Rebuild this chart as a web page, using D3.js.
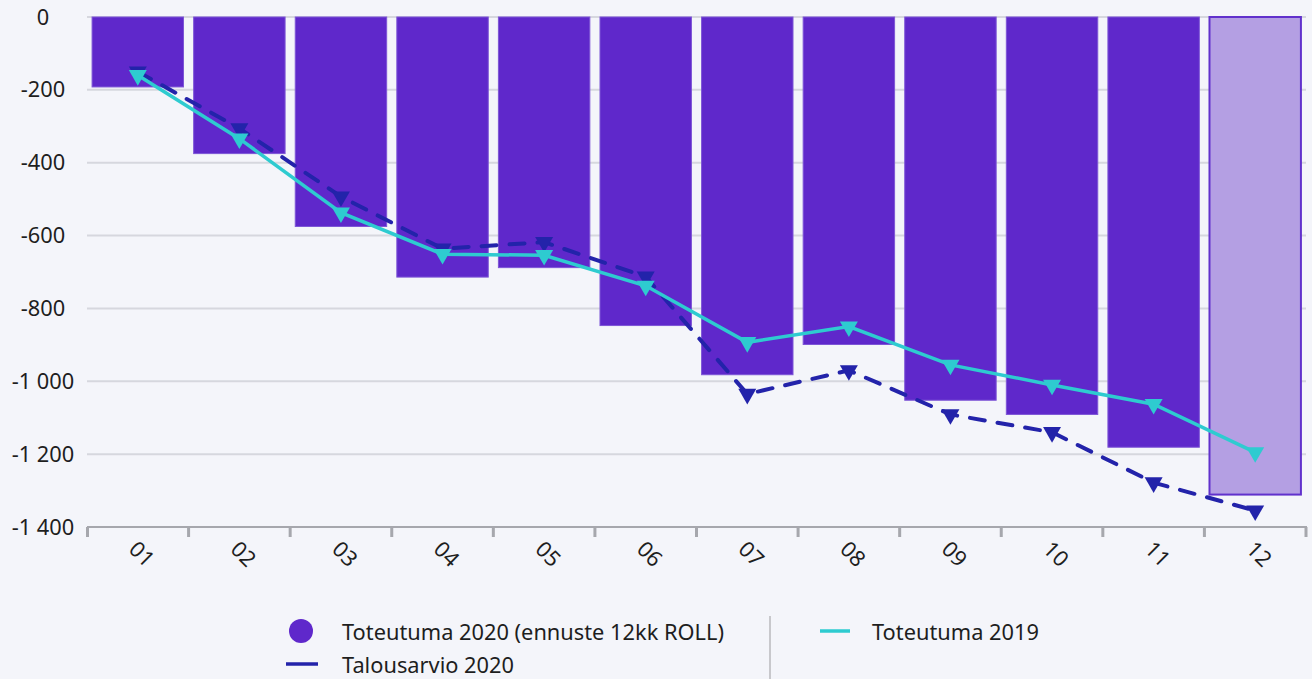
<!DOCTYPE html>
<html><head><meta charset="utf-8">
<script src="https://cdn.jsdelivr.net/npm/d3@7"></script>
<style>
html,body{margin:0;padding:0;background:#f4f5fa;}
svg{display:block;font-family:"Noto Sans","Open Sans",sans-serif;}
</style></head>
<body><svg id="c" width="1312" height="679"></svg>
<script>
const months = ["01","02","03","04","05","06","07","08","09","10","11","12"];
const toteutuma2020 = [-192,-375,-575,-714,-688,-847,-982,-899,-1052,-1091,-1181,-1311];
const forecastFrom = "12";
const talousarvio2020 = [-150,-306,-493,-636,-618,-713,-1035,-970,-1091,-1140,-1278,-1355];
const toteutuma2019 = [-160,-334,-537,-651,-654,-738,-893,-850,-955,-1010,-1063,-1195];
const yTicks = [0,-200,-400,-600,-800,-1000,-1200,-1400];
const legendNames = ["Toteutuma 2020 (ennuste 12kk ROLL)","Talousarvio 2020","Toteutuma 2019"];

const svg = d3.select("#c");
const FS = 21.8;
const x = d3.scaleBand().domain(months).range([87,1306]).paddingInner(0.1).paddingOuter(0.05);
const y = d3.scaleLinear().domain([-1400,0]).range([527,17]);
const fmt = v => d3.format(",")(v).replace(/,/g," ").replace("−","-");

// gridlines
svg.append("g").selectAll("line").data(yTicks.filter(t=>t>-1400)).join("line")
  .attr("x1",87).attr("x2",1306).attr("y1",d=>y(d)).attr("y2",d=>y(d))
  .attr("stroke","#d6d7de").attr("stroke-width",2);
// y labels
svg.append("g").selectAll("text").data(yTicks).join("text")
  .attr("x",43).attr("y",d=>y(d)+7.5).attr("text-anchor","middle")
  .attr("font-size",FS).attr("fill","#1e1e1e").text(d=>fmt(d));

// bars
svg.append("g").selectAll("rect").data(months).join("rect")
  .attr("x",d=>x(d)).attr("width",x.bandwidth())
  .attr("y",y(0)).attr("height",(d,i)=>y(toteutuma2020[i])-y(0))
  .attr("fill",d=>d===forecastFrom?"#b49fe3":"#5f28cb")
  .attr("stroke",d=>d===forecastFrom?"#6131cc":"#7d55d6")
  .attr("stroke-width",d=>d===forecastFrom?2:1);

// x axis
const baseY = 527;
svg.append("line").attr("x1",87).attr("x2",1307).attr("y1",baseY).attr("y2",baseY)
  .attr("stroke","#a6a7ad").attr("stroke-width",2);
const bounds = months.map(m=>x(m)-x.step()*x.paddingInner()/2).concat([1306]);
bounds[0]=87.5;
svg.append("g").selectAll("line").data(bounds).join("line")
  .attr("x1",d=>d).attr("x2",d=>d).attr("y1",baseY).attr("y2",baseY+10)
  .attr("stroke","#a6a7ad").attr("stroke-width",3);
svg.append("g").selectAll("text").data(months).join("text")
  .attr("transform",d=>`translate(${x(d)+x.bandwidth()/2+4},${554}) rotate(45)`)
  .attr("text-anchor","middle").attr("dy","0.35em")
  .attr("font-size",FS).attr("fill","#1e1e1e").text(d=>d);

const cx = d => x(d)+x.bandwidth()/2;
const tri = d3.symbol().type(d3.symbolTriangle).size(140);
function series(vals,color,dash,width){
  const line = d3.line().x((d,i)=>cx(months[i])).y(d=>y(d));
  svg.append("path").datum(vals).attr("d",line).attr("fill","none")
    .attr("stroke",color).attr("stroke-width",width)
    .attr("stroke-dasharray",dash).attr("stroke-linecap",dash?"round":"butt");
  svg.append("g").selectAll("path").data(vals).join("path")
    .attr("d",tri).attr("fill",color)
    .attr("transform",(d,i)=>`translate(${cx(months[i])},${y(d)}) rotate(180)`);
}
series(talousarvio2020,"#2323aa","15 13",4);
series(toteutuma2019,"#2ecbd0",null,3.5);

// legend
const lg = svg.append("g").attr("font-size",FS).attr("fill","#1e1e1e");
lg.append("circle").attr("cx",301).attr("cy",631).attr("r",12).attr("fill","#5f28cb");
lg.append("text").attr("x",342).attr("y",639.5).text(legendNames[0]);
lg.append("line").attr("x1",286).attr("x2",318).attr("y1",664).attr("y2",664).attr("stroke","#2323aa").attr("stroke-width",3.5);
lg.append("text").attr("x",342).attr("y",673).text(legendNames[1]);
lg.append("line").attr("x1",770).attr("x2",770).attr("y1",616).attr("y2",679).attr("stroke","#c8c8cc").attr("stroke-width",2);
lg.append("line").attr("x1",820).attr("x2",850).attr("y1",631).attr("y2",631).attr("stroke","#2ecbd0").attr("stroke-width",3.5);
lg.append("text").attr("x",872).attr("y",639.5).text(legendNames[2]);
</script></body></html>
